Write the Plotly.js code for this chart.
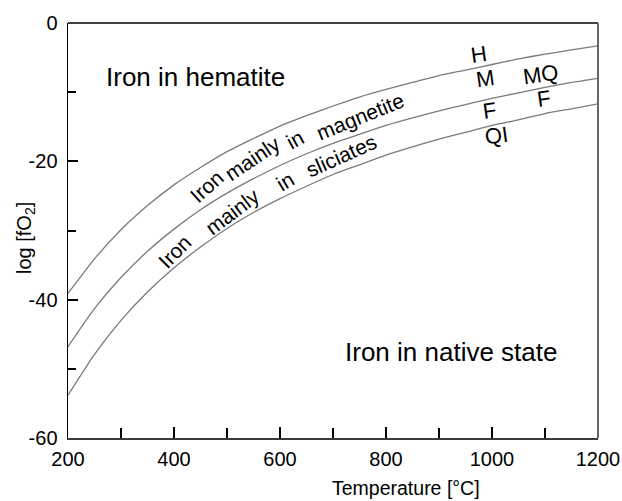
<!DOCTYPE html>
<html>
<head>
<meta charset="utf-8">
<script src="https://cdn.plot.ly/plotly-3.0.1.min.js"></script>
<style>
  html, body { margin: 0; padding: 0; background: #fff; }
  #chart { width: 622px; height: 501px; }
</style>
</head>
<body>
<div id="chart"></div>
<script>
// Temperature grid, °C
const temps = [200, 250, 300, 350, 400, 450, 500, 550, 600, 650, 700,
               750, 800, 850, 900, 950, 1000, 1050, 1100, 1150, 1200];

// Buffer curves, log fO2
const hmBuffer  = [-39.1, -34.1, -29.9, -26.4, -23.4, -20.9, -18.6, -16.7, -14.9, -13.4, -12.0,
                   -10.7, -9.6, -8.6, -7.6, -6.8, -6.0, -5.2, -4.5, -3.9, -3.3];
const fmqBuffer = [-46.8, -41.3, -36.8, -33.0, -29.8, -27.0, -24.6, -22.5, -20.6, -18.9, -17.4,
                   -16.1, -14.8, -13.7, -12.7, -11.8, -10.9, -10.1, -9.3, -8.6, -8.0];
const qifBuffer = [-53.8, -47.9, -43.0, -38.9, -35.4, -32.4, -29.7, -27.4, -25.4, -23.6, -21.9,
                   -20.5, -19.1, -17.9, -16.8, -15.8, -14.8, -14.0, -13.1, -12.4, -11.7];

// Axis ticks
const xTicks = [200, 400, 600, 800, 1000, 1200];
const yTicks = [0, -20, -40, -60];

// Field labels
const fieldLabels = ["Iron in hematite", "Iron in native state"];
const fieldX = [440, 922];
const fieldY = [-7.8, -47.6];

// Words running along the bands
const bandWords  = ["Iron", "mainly", "in", "magnetite", "Iron", "mainly", "in", "sliciates"];
const bandX      = [461.7, 547.7, 628.3, 750.9, 401.9, 510.8, 609.4, 716.4];
const bandY      = [-23.7, -19.6, -16.9, -13.45, -33.1, -27.3, -22.9, -19.2];
const bandAngles = [-42, -34, -29, -22, -45, -37, -31, -24];

// Buffer abbreviations
const bufferLetters = ["H", "M", "MQ", "F", "F", "QI"];
const letterX = [976, 987, 1092, 996, 1098, 1009];
const letterY = [-4.6, -8.0, -7.5, -12.7, -10.9, -16.3];

const FONT = "Liberation Sans, Arial, Helvetica, sans-serif";
const curveStyle = { color: "#7a7a7a", width: 1.3, shape: "spline", smoothing: 0.6 };

const traces = [hmBuffer, fmqBuffer, qifBuffer].map(ys => ({
  x: temps, y: ys, type: "scatter", mode: "lines",
  line: curveStyle, hoverinfo: "skip", showlegend: false
}));

// plot box in pixels
const M = { l: 68, r: 24, t: 23, b: 63 };
const PW = 622 - M.l - M.r, PH = 501 - M.t - M.b;
const px2paperX = px => (px - M.l) / PW;
const px2paperY = py => (501 - M.b - py) / PH;

const annotations = [];
fieldLabels.forEach((t, i) => annotations.push({
  x: fieldX[i], y: fieldY[i], xref: "x", yref: "y", text: t, showarrow: false,
  xanchor: "center", yanchor: "middle", font: { family: FONT, size: 26, color: "#000" }
}));
bandWords.forEach((t, i) => annotations.push({
  x: bandX[i], y: bandY[i], xref: "x", yref: "y", text: t, showarrow: false,
  textangle: bandAngles[i], xanchor: "center", yanchor: "middle",
  font: { family: FONT, size: 21, color: "#000" }
}));
bufferLetters.forEach((t, i) => annotations.push({
  x: letterX[i], y: letterY[i], xref: "x", yref: "y", text: t, showarrow: false,
  textangle: -8, xanchor: "center", yanchor: "middle",
  font: { family: FONT, size: 22, color: "#000" }
}));
// Axis titles
annotations.push({
  x: px2paperX(406), y: px2paperY(488), xref: "paper", yref: "paper",
  xanchor: "center", yanchor: "middle",
  text: "Temperature [°C]", showarrow: false,
  font: { family: FONT, size: 19.5, color: "#000" }
});
annotations.push({
  x: px2paperX(25), y: px2paperY(238), xref: "paper", yref: "paper",
  xanchor: "center", yanchor: "middle",
  text: "log [fO<sub>2</sub>]", showarrow: false, textangle: -90,
  font: { family: FONT, size: 20, color: "#000" }
});

const layout = {
  width: 622, height: 501,
  margin: M,
  paper_bgcolor: "#fff", plot_bgcolor: "#fff",
  font: { family: FONT, color: "#000" },
  xaxis: {
    range: [200, 1200], tickvals: xTicks, ticktext: xTicks.map(String),
    ticks: "inside", ticklen: 11, tickwidth: 2, tickcolor: "#000",
    minor: { dtick: 100, tick0: 200, ticks: "inside", ticklen: 10, tickwidth: 2, tickcolor: "#000" },
    showline: true, linecolor: "#3a3a3a", linewidth: 1.5, mirror: false,
    showgrid: false, zeroline: false, ticklabelstandoff: 2,
    tickfont: { family: FONT, size: 20, color: "#000" }
  },
  yaxis: {
    range: [-60, 0], tickvals: yTicks, ticktext: yTicks.map(String),
    ticks: "inside", ticklen: 10, tickwidth: 2, tickcolor: "#000",
    minor: { dtick: 10, tick0: 0, ticks: "inside", ticklen: 8, tickwidth: 2, tickcolor: "#000" },
    showline: true, linecolor: "#000", linewidth: 1.5, mirror: false,
    showgrid: false, zeroline: false, ticklabelstandoff: 5,
    tickfont: { family: FONT, size: 20, color: "#000" }
  },
  shapes: [
    { type: "line", xref: "paper", yref: "paper", x0: 0, x1: 1, y0: 1, y1: 1,
      line: { color: "#000", width: 1.5 } },
    { type: "line", xref: "paper", yref: "paper", x0: 1, x1: 1, y0: 0, y1: 1,
      line: { color: "#666", width: 2 } }
  ],
  annotations: annotations,
  showlegend: false
};

Plotly.newPlot("chart", traces, layout, { displayModeBar: false, staticPlot: true });
</script>
</body>
</html>
